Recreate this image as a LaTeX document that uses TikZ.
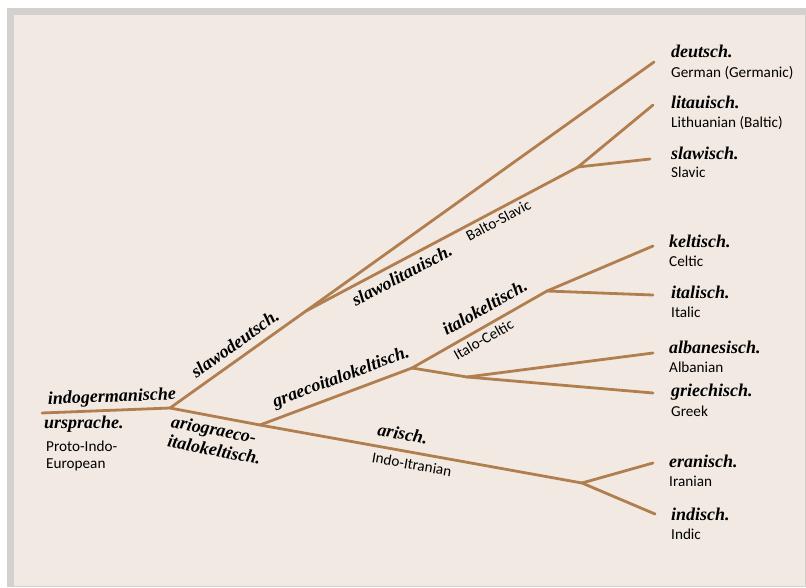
\documentclass[tikz,border=0pt]{standalone}
\usepackage{fontspec}
\usepackage{tikz}
\newfontfamily\glossfont{Carlito}
\newfontfamily\langfont{Liberation Serif}
\definecolor{branchbrown}{RGB}{177,126,80}
\definecolor{paper}{RGB}{242,234,226}
\definecolor{rim}{RGB}{212,208,206}

\begin{document}
\begin{tikzpicture}[x=1pt, y=-1pt,
	branch/.style={draw=branchbrown, line width=2.8pt, line cap=round, line join=round},
	lang/.style={font=\langfont\fontsize{18}{20}\selectfont\bfseries\itshape, inner sep=1pt},
	gloss/.style={font=\glossfont\fontsize{15.2}{17}\selectfont, inner sep=1pt}]
	\useasboundingbox (0, 0) rectangle (806, 587);
	\fill [rim] (7, 8) rectangle (806, 587);
	\fill [paper] (14, 15) rectangle (805, 586);

	% joints of the tree
	\coordinate (root) at (42, 413);
	\coordinate (ie) at (170, 408);
	\coordinate (sd) at (306, 311);
	\coordinate (bs) at (578, 167);
	\coordinate (gi) at (260, 425);
	\coordinate (ag) at (412, 368);
	\coordinate (ik) at (547, 291);
	\coordinate (alg) at (467, 377);
	\coordinate (ar) at (582, 483);

	% ends of the branches
	\coordinate (deuEnd) at (654, 62);
	\coordinate (litEnd) at (653, 105);
	\coordinate (slaEnd) at (650, 159);
	\coordinate (kelEnd) at (653, 246);
	\coordinate (itaEnd) at (653, 295);
	\coordinate (albEnd) at (653, 353);
	\coordinate (griEnd) at (653, 393);
	\coordinate (eraEnd) at (653, 463);
	\coordinate (indEnd) at (655, 514);

	% branches with their labels
	\draw [branch] (root) -- node [lang, sloped, above=2pt, pos=0.55] (ieName) {indogermanische} (ie);
	\draw [branch] (ie) -- node [lang, sloped, above=6pt, pos=0.54] (sdName) {slawodeutsch.} (sd);
	\draw [branch] (sd) -- (deuEnd);
	\draw [branch] (sd) -- node [lang, sloped, below=4.5pt, pos=0.33] (bsName) {slawolitauisch.}
		node [gloss, sloped, below=2pt, pos=0.69] (bsGloss) {Balto-Slavic} (bs);
	\draw [branch] (bs) -- (litEnd);
	\draw [branch] (bs) -- (slaEnd);
	\draw [branch] (ie) -- node [lang, sloped, below=4pt, pos=0.56, align=left] (agiName) {ariograeco-\\italokeltisch.} (gi);
	\draw [branch] (gi) -- node [lang, sloped, above=5pt, pos=0.57] (giName) {graecoitalokeltisch.} (ag);
	\draw [branch] (ag) -- node [lang, sloped, above=8pt, pos=0.6] (ikName) {italokeltisch.}
		node [gloss, sloped, below=3pt, pos=0.49] (ikGloss) {Italo-Celtic} (ik);
	\draw [branch] (ik) -- (kelEnd);
	\draw [branch] (ik) -- (itaEnd);
	\draw [branch] (ag) -- (alg);
	\draw [branch] (alg) -- (albEnd);
	\draw [branch] (alg) -- (griEnd);
	\draw [branch] (gi) -- node [lang, sloped, above=8pt, pos=0.434] (arName) {arisch.}
		node [gloss, sloped, below=4pt, pos=0.478] (arGloss) {Indo-Itranian} (ar);
	\draw [branch] (ar) -- (eraEnd);
	\draw [branch] (ar) -- (indEnd);

	% root label
	\node [lang, anchor=base west] (urName) at (43, 428) {ursprache.};
	\node [gloss, anchor=base west, align=left] (urGloss) at (45, 468) {Proto-Indo-\\European};

	% leaf labels
	\node [lang, anchor=base west] (deu) at (670, 57) {deutsch.};
	\node [gloss, anchor=base west] (deuGloss) at (670, 77) {German (Germanic)};
	\node [lang, anchor=base west] (lit) at (670, 108) {litauisch.};
	\node [gloss, anchor=base west] (litGloss) at (670, 127) {Lithuanian (Baltic)};
	\node [lang, anchor=base west] (sla) at (670, 159) {slawisch.};
	\node [gloss, anchor=base west] (slaGloss) at (670, 177) {Slavic};
	\node [lang, anchor=base west] (kel) at (668, 247) {keltisch.};
	\node [gloss, anchor=base west] (kelGloss) at (668, 266) {Celtic};
	\node [lang, anchor=base west] (ita) at (670, 298) {italisch.};
	\node [gloss, anchor=base west] (itaGloss) at (670, 317) {Italic};
	\node [lang, anchor=base west] (alb) at (668, 353) {albanesisch.};
	\node [gloss, anchor=base west] (albGloss) at (668, 372) {Albanian};
	\node [lang, anchor=base west] (gri) at (670, 396) {griechisch.};
	\node [gloss, anchor=base west] (griGloss) at (670, 416) {Greek};
	\node [lang, anchor=base west] (era) at (668, 467) {eranisch.};
	\node [gloss, anchor=base west] (eraGloss) at (668, 486) {Iranian};
	\node [lang, anchor=base west] (ind) at (670, 520) {indisch.};
	\node [gloss, anchor=base west] (indGloss) at (670, 539) {Indic};
\end{tikzpicture}
\end{document}
